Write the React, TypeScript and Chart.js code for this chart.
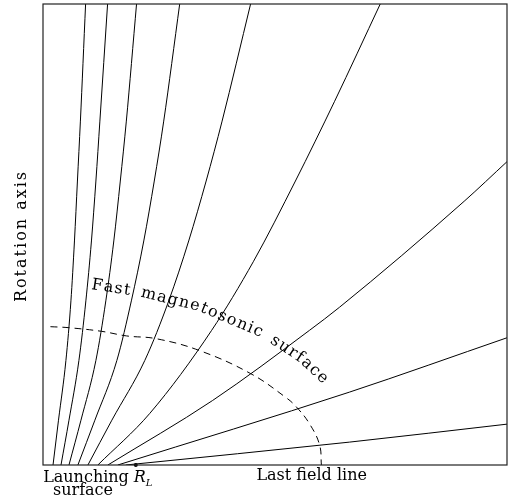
import React, { useEffect, useRef } from "react";
import { Chart, registerables } from "chart.js";
Chart.register(...registerables);

// Units: R / R_L (horizontal) and height / R_L (vertical)
const line1X = [0.108, 0.167, 0.247, 0.301, 0.339, 0.371, 0.403, 0.459];
const line1Y = [0, 0.486, 1.134, 1.78, 2.43, 3.08, 3.73, 5.0];
const line2X = [0.194, 0.28, 0.387, 0.462, 0.522, 0.57, 0.613, 0.696];
const line2Y = [0, 0.486, 1.134, 1.78, 2.43, 3.08, 3.73, 5.0];
const line3X = [0.28, 0.409, 0.57, 0.677, 0.763, 0.833, 0.898, 1.008];
const line3Y = [0, 0.486, 1.134, 1.78, 2.43, 3.08, 3.73, 5.0];
const line4X = [0.376, 0.559, 0.796, 0.952, 1.086, 1.199, 1.301, 1.473];
const line4Y = [0, 0.486, 1.134, 1.78, 2.43, 3.08, 3.73, 5.0];
const line5X = [0.484, 0.742, 1.097, 1.355, 1.57, 1.758, 1.93, 2.237];
const line5Y = [0, 0.486, 1.134, 1.78, 2.43, 3.08, 3.73, 5.0];
const line6X = [0.591, 1.151, 1.817, 2.269, 2.72, 3.14, 3.634];
const line6Y = [0, 0.56, 1.46, 2.21, 3.08, 3.94, 5.0];
const line7X = [0.699, 1.828, 2.871, 3.194, 4.538, 5.0];
const line7Y = [0, 0.7, 1.46, 1.71, 2.86, 3.29];
const line8X = [0.806, 3.301, 5.0];
const line8Y = [0, 0.79, 1.38];
const line9X = [0.892, 3.301, 5.0];
const line9Y = [0, 0.248, 0.443];

const fastSurfaceX = [0.08, 0.27, 0.63, 0.9, 1.22, 1.69, 2.24, 2.62, 2.73, 2.87, 2.98, 3.0];
const fastSurfaceY = [1.5, 1.49, 1.45, 1.4, 1.37, 1.24, 0.99, 0.73, 0.63, 0.45, 0.22, 0];

const lightCylinderX = [1.0];
const lightCylinderY = [0];

// baseline path for the curved label
const labelPathX = [0.516, 1.043, 1.688, 2.355, 2.763, 3.032, 3.247];
const labelPathY = [1.91, 1.828, 1.668, 1.385, 1.117, 0.863, 0.57];
const curvedLabel = "Fast magnetosonic surface";

const toPts = (xs: number[], ys: number[]) => xs.map((x, i) => ({ x, y: ys[i] }));

const FONT = "16px 'DejaVu Serif'";

function drawTextOnPath(ctx: CanvasRenderingContext2D, text: string, pts: { x: number; y: number }[], spacing: number, spaceExtra: number) {
  const segs: any[] = [];
  let total = 0;
  for (let i = 0; i < pts.length - 1; i++) {
    const dx = pts[i + 1].x - pts[i].x;
    const dy = pts[i + 1].y - pts[i].y;
    const len = Math.hypot(dx, dy);
    segs.push({ x0: pts[i].x, y0: pts[i].y, dx, dy, len, start: total });
    total += len;
  }
  const at = (s: number) => {
    let seg = segs[segs.length - 1];
    for (const g of segs) {
      if (s <= g.start + g.len) { seg = g; break; }
    }
    const t = (s - seg.start) / seg.len;
    return { x: seg.x0 + seg.dx * t, y: seg.y0 + seg.dy * t };
  };
  let s = 0;
  for (const ch of text) {
    const w = ctx.measureText(ch).width;
    const p = at(s);
    const q = at(s + Math.max(w, 4));
    const ang = Math.atan2(q.y - p.y, q.x - p.x);
    ctx.save();
    ctx.translate(p.x, p.y);
    ctx.rotate(ang);
    ctx.fillText(ch, 0, 0);
    ctx.restore();
    s += w + spacing + (ch === " " ? spaceExtra : 0);
  }
}

const annotate = {
  id: "annotate",
  afterDraw(chart: any) {
    const { ctx, chartArea, scales } = chart;
    const xs = scales.x, ys = scales.y;
    ctx.save();
    ctx.strokeStyle = "#222";
    ctx.lineWidth = 1.2;
    ctx.strokeRect(chartArea.left, chartArea.top, chartArea.right - chartArea.left, chartArea.bottom - chartArea.top);

    ctx.fillStyle = "#000";
    ctx.font = FONT;
    ctx.textBaseline = "alphabetic";

    // Rotation axis
    ctx.save();
    ctx.translate(chartArea.left - 17, 236);
    ctx.rotate(-Math.PI / 2);
    ctx.textAlign = "center";
    (ctx as any).letterSpacing = "2px";
    ctx.fillText("Rotation axis", 0, 0);
    (ctx as any).letterSpacing = "0px";
    ctx.restore();

    // bottom labels
    ctx.textAlign = "center";
    ctx.fillText("Launching", chartArea.left + 43, chartArea.bottom + 17);
    ctx.fillText("surface", chartArea.left + 40, chartArea.bottom + 30);
    ctx.textAlign = "left";
    ctx.fillText("Last field line", xs.getPixelForValue(2.3), chartArea.bottom + 15);

    const rx = xs.getPixelForValue(lightCylinderX[0]);
    ctx.font = "italic 16px 'DejaVu Serif'";
    ctx.fillText("R", rx - 2, chartArea.bottom + 17);
    ctx.font = "italic 10px 'DejaVu Serif'";
    ctx.fillText("L", rx + 10, chartArea.bottom + 21);

    // curved label
    ctx.font = FONT;
    ctx.textAlign = "left";
    const path = labelPathX.map((x, i) => ({ x: xs.getPixelForValue(x), y: ys.getPixelForValue(labelPathY[i]) }));
    drawTextOnPath(ctx, curvedLabel, path, 1.3, 3);
    ctx.restore();
  },
};

export default function App() {
  const ref = useRef<HTMLCanvasElement>(null);
  useEffect(() => {
    if (!ref.current) return;
    const lineStyle = { borderColor: "#000", borderWidth: 1, pointRadius: 0, showLine: true, cubicInterpolationMode: "monotone", fill: false };
    const lines = [
      [line1X, line1Y], [line2X, line2Y], [line3X, line3Y], [line4X, line4Y], [line5X, line5Y],
      [line6X, line6Y], [line7X, line7Y], [line8X, line8Y], [line9X, line9Y],
    ];
    const datasets: any[] = lines.map(([xs, ys], i) => ({ label: "field line " + (i + 1), data: toPts(xs, ys), ...lineStyle }));
    datasets.push({
      label: "Fast magnetosonic surface", data: toPts(fastSurfaceX, fastSurfaceY),
      borderColor: "#000", borderWidth: 1, pointRadius: 0, showLine: true, tension: 0.4, fill: false, borderDash: [7, 5],
    });
    datasets.push({ label: "R_L", data: toPts(lightCylinderX, lightCylinderY), showLine: false, pointRadius: 2, backgroundColor: "#000", borderColor: "#000", borderWidth: 0, clip: false });
    const chart = new Chart(ref.current, {
      type: "scatter",
      data: { datasets },
      options: {
        animation: false,
        responsive: false,
        devicePixelRatio: 1,
        layout: { padding: { left: 43, top: 2, right: 3, bottom: 31 } },
        scales: {
          x: { type: "linear", min: 0, max: 5, display: false },
          y: { type: "linear", min: 0, max: 5, display: false },
        },
        plugins: { legend: { display: false }, tooltip: { enabled: false } },
      },
      plugins: [annotate],
    });
    return () => chart.destroy();
  }, []);
  return (
    <div style={{ position: "fixed", left: 0, top: 0, width: 511, height: 496, background: "#fff" }}>
      <canvas ref={ref} width={511} height={496} style={{ width: 511, height: 496 }} />
    </div>
  );
}
